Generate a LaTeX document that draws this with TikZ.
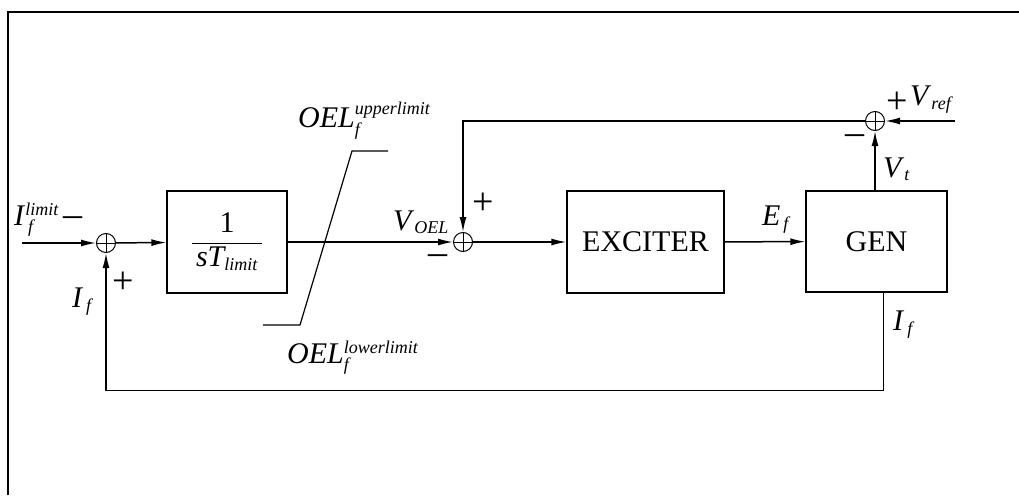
\documentclass[tikz,border=0pt]{standalone}
\usepackage{amsmath}
\usepackage{fontspec}
\setmainfont{Liberation Serif}
\usetikzlibrary{arrows.meta,positioning}
\DeclareMathSizes{30}{30}{18}{14}

\begin{document}
\begin{tikzpicture}[x=1pt,y=-1pt,
        font=\fontsize{30}{36}\selectfont,
        block/.style={draw,line width=1.3pt,inner sep=0pt},
        sumpt/.style={draw,circle,line width=1pt,minimum size=19pt,inner sep=0pt,
            path picture={\draw[line width=1pt] (path picture bounding box.north) -- (path picture bounding box.south)
                (path picture bounding box.west) -- (path picture bounding box.east);}},
        sig/.style={line width=1.5pt,-{Latex[length=15pt,width=7pt]}},
        wire/.style={line width=1.2pt},
        lbl/.style={anchor=base west,inner sep=0pt},
        sgn/.style={inner sep=0pt,font=\fontsize{38}{40}\selectfont}]
        \useasboundingbox (0,0) rectangle (1019,495);
        \draw[line width=2.2pt] (8,495) -- (8,12) -- (1019,12);
        % blocks
        \node[block,minimum width=120pt,minimum height=102pt] (intg) at (227,242)
            {$\dfrac{\text{1}}{\,\textit{sT}_{\textit{limit}}\,}$};
        \node[block,minimum width=157pt,minimum height=102pt] (exc) at (645.5,242) {EXCITER};
        \node[block,minimum width=141pt,minimum height=101pt] (gen) at (876.5,241.5) {GEN};
        % summing points
        \node[sumpt] (s1) at (106,243) {};
        \node[sumpt] (s2) at (463,242) {};
        \node[sumpt] (s3) at (875,121) {};
        \coordinate (fin) at (22,243);
        \coordinate (vref) at (955,121);
        % signals
        \draw[sig] (fin) -- (s1);
        \draw[sig] (s1) -- (intg);
        \draw[sig] (intg) -- (s2);
        \draw[sig] (s2) -- (exc);
        \draw[sig] (exc) -- (gen);
        \draw[sig] (gen.north -| s3) -- (s3);
        \draw[sig] (vref) -- (s3);
        \draw[sig] (s3) -- (s3 -| s2) -- (s2);
        \draw[sig] ([xshift=7pt]gen.south) -- ++(0,98) -| (s1);
        % limiter
        \draw[wire] (263,325) -- (300,325) -- (352,151) -- (388,151);
        % labels
        \node[lbl] (ilim) at (14,225) {\textit{I}$_{\,\textit{f}}^{\textit{limit}}$};
        \node[lbl] (oelup) at (298,127) {\textit{OEL}$_{\textit{f}}^{\textit{upperlimit}}$};
        \node[lbl] (oellow) at (287,363) {\textit{OEL}$_{\textit{f}}^{\textit{lowerlimit}}$};
        \node[lbl] (voel) at (393,230) {\textit{V}$_{\textit{OEL}}$};
        \node[lbl] (ef) at (762,225) {\textit{E}$_{\,\textit{f}}$};
        \node[lbl] (vt) at (883,177) {\textit{V}$_{\textit{t}}$};
        \node[lbl] (vr) at (910,105) {\textit{V}$_{\textit{ref}}$};
        \node[lbl] (ifg) at (893,330) {\textit{I}$_{\,\textit{f}}$};
        \node[lbl] (ifs) at (72,307) {\textit{I}$_{\,\textit{f}}$};
        % signs
        \node[sgn] (m1) at (73,222) {–};
        \node[sgn] (p1) at (123,283) {+};
        \node[sgn] (p2) at (483,204) {+};
        \node[sgn] (m2) at (438,260) {–};
        \node[sgn] (m3) at (855,140) {–};
        \node[sgn] (p3) at (897,103) {+};
\end{tikzpicture}
\end{document}
